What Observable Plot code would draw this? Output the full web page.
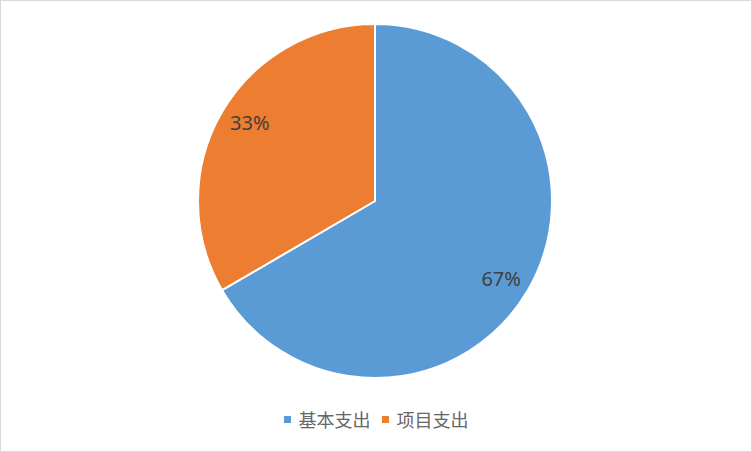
<!DOCTYPE html>
<html>
<head>
<meta charset="utf-8">
<script src="https://cdn.jsdelivr.net/npm/d3@7"></script>
<script src="https://cdn.jsdelivr.net/npm/@observablehq/plot@0.6"></script>
<style>
  html, body { margin: 0; padding: 0; background: #fff; }
  #frame { box-sizing: border-box; width: 752px; height: 452px; border: 1px solid #d9d9d9; position: relative; overflow: hidden; }
  #legend { position: absolute; left: 0; right: 0; top: 405px; display: flex; justify-content: center; align-items: center; font-family: "Noto Sans CJK SC", sans-serif; font-size: 18px; color: #666666; }
  .item { display: flex; align-items: center; margin: 0 5.5px; }
  .sw { width: 7px; height: 7px; margin-right: 8px; }
</style>
</head>
<body>
<div id="frame"><div id="chart"></div><div id="legend"></div></div>
<script>
const categories = ["基本支出", "项目支出"];
const shares = [66.6, 33.4];
const labels = ["67%", "33%"];
const colors = ["#5B9BD5", "#ED7D31"];

const data = categories.map((c, i) => ({category: c, value: shares[i], label: labels[i]}));
const arcs = d3.pie().sort(null).value(d => d.value)(data);

const W = 750, H = 400;
const cx = 374, cy = 200, R = 177, labelR = 148, labelShift = 2 * Math.PI / 180;

const labelData = arcs.map(a => {
  const mid = (a.startAngle + a.endAngle) / 2 + labelShift;
  return {x: cx + labelR * Math.sin(mid), y: cy - labelR * Math.cos(mid), label: a.data.label};
});

function pieMark(index, scales, values, dimensions) {
  const g = d3.create("svg:g");
  const px = scales.x(cx), py = scales.y(cy);
  const pr = scales.x(cx + R) - px;
  const arcGen = d3.arc().innerRadius(0).outerRadius(pr);
  g.selectAll("path").data(arcs).join("path")
    .attr("transform", `translate(${px},${py})`)
    .attr("d", arcGen)
    .attr("fill", d => scales.color(d.data.category))
    .attr("stroke", "#fff")
    .attr("stroke-width", 2)
    .attr("stroke-linejoin", "round");
  return g.node();
}

const plot = Plot.plot({
  width: W, height: H,
  margin: 0,
  x: {domain: [0, W], range: [0, W], axis: null},
  y: {domain: [0, H], range: [0, H], axis: null},
  color: {domain: categories, range: colors},
  style: {background: "transparent"},
  marks: [
    pieMark,
    Plot.text(labelData, {x: "x", y: "y", text: "label", fill: "#404040", fontSize: 20, fontFamily: "'Noto Sans', 'DejaVu Sans', sans-serif"})
  ]
});
document.getElementById("chart").appendChild(plot);

const legend = d3.select("#legend");
categories.forEach((c, i) => {
  const it = legend.append("div").attr("class", "item");
  it.append("div").attr("class", "sw").style("background", colors[i]);
  it.append("span").text(c);
});
</script>
</body>
</html>
